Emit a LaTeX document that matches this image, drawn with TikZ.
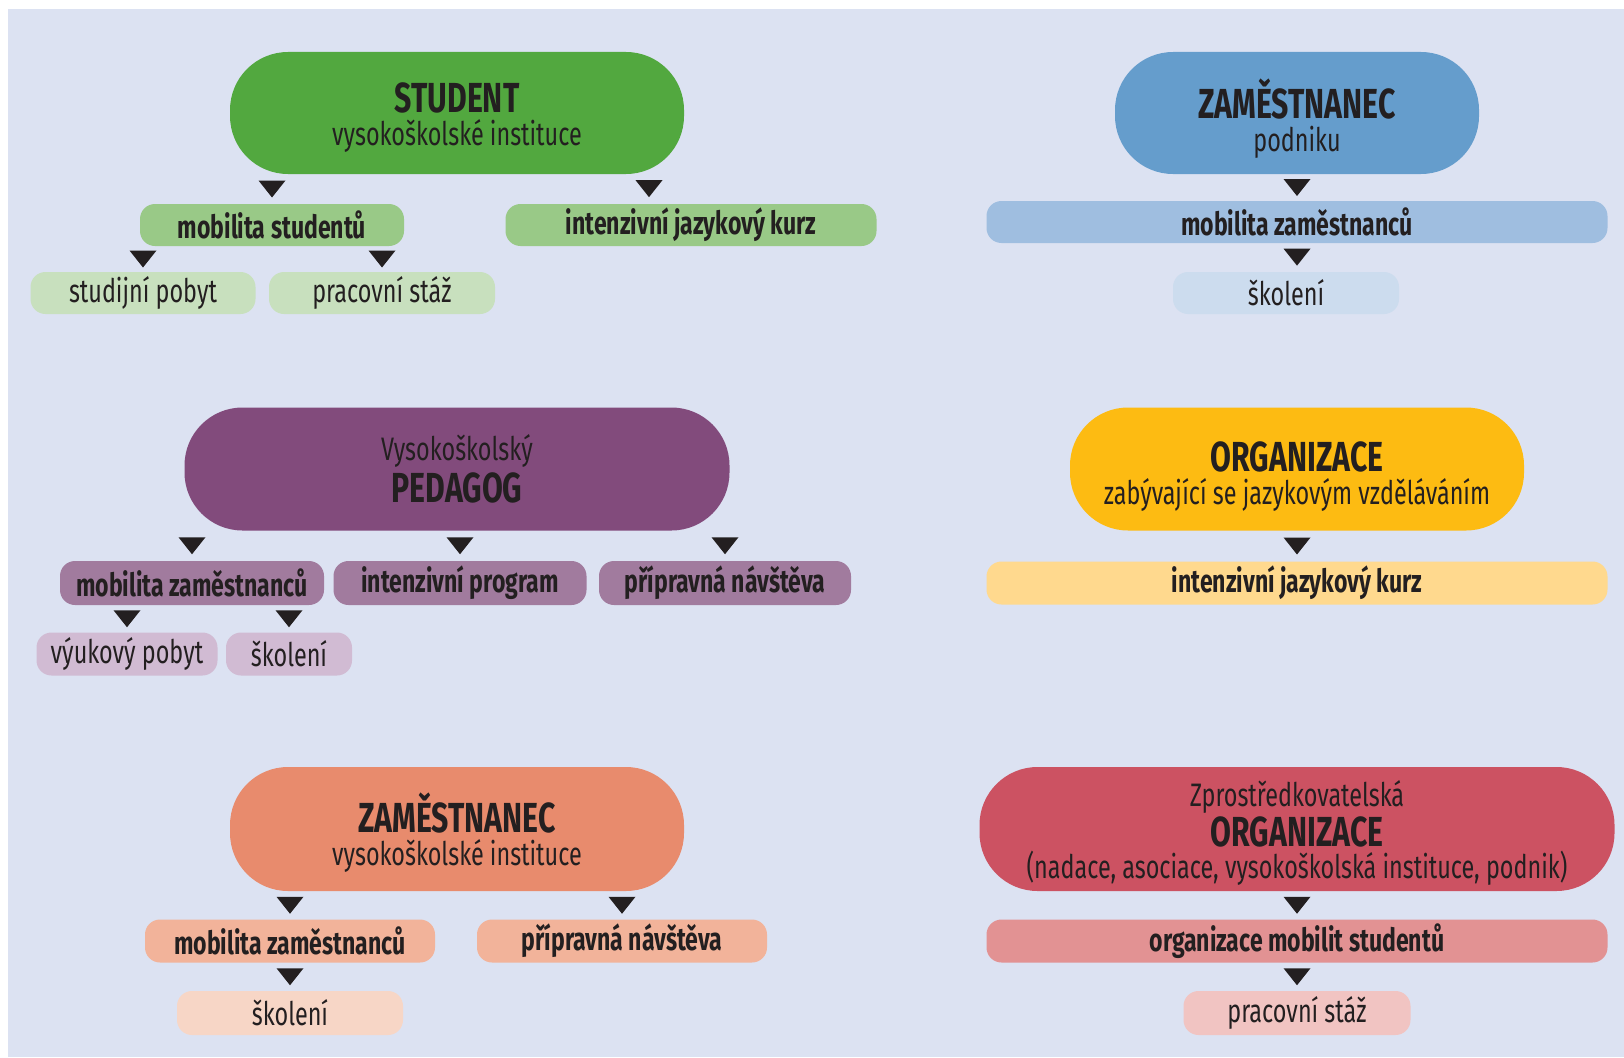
\documentclass[tikz,border=0pt]{standalone}
\usepackage{fontspec}
\setmainfont{Fira Sans}[FakeStretch=0.72]
\usetikzlibrary{calc}

\definecolor{paper}{RGB}{220,226,242}
\definecolor{ink}{RGB}{35,31,32}
\definecolor{grnA}{RGB}{82,168,63}
\definecolor{grnB}{RGB}{153,201,135}
\definecolor{grnC}{RGB}{200,224,190}
\definecolor{bluA}{RGB}{101,157,204}
\definecolor{bluB}{RGB}{159,190,224}
\definecolor{bluC}{RGB}{204,220,238}
\definecolor{purA}{RGB}{130,75,124}
\definecolor{purB}{RGB}{161,123,158}
\definecolor{purC}{RGB}{209,187,211}
\definecolor{yelA}{RGB}{253,187,18}
\definecolor{yelB}{RGB}{255,217,142}
\definecolor{orgA}{RGB}{232,139,109}
\definecolor{orgB}{RGB}{242,179,154}
\definecolor{orgC}{RGB}{247,214,198}
\definecolor{redA}{RGB}{204,82,98}
\definecolor{redB}{RGB}{226,146,147}
\definecolor{redC}{RGB}{241,196,194}

\newcommand\hd[2][0pt]{{\fontsize{42}{38}\selectfont\bfseries\rule{0pt}{#1}#2}}

\begin{document}
\begin{tikzpicture}[x=1pt, y=-1pt,
	head/.style = { rounded corners=58pt, minimum height=122pt, inner sep=0pt,
		align=center, text=ink, font=\fontsize{32.5}{33}\selectfont },
	tag/.style = { rounded corners=15pt, minimum height=42pt, inner sep=0pt,
		text=ink, font=\fontsize{32}{34}\selectfont\bfseries },
	leaf/.style = { rounded corners=15pt, minimum height=42pt, inner sep=0pt,
		text=ink, font=\fontsize{32.5}{34}\selectfont },
	drop/.style = { to path = { ($(\tikztostart.south -| \tikztotarget.north)!.5!(\tikztotarget.north)$)
		++(-13.5,-8.5) -- ++(27,0) -- ++(-13.5,17) -- cycle } }
	]
	\useasboundingbox (0,0) rectangle (1624,1057);
	\fill[paper] (8,9) rectangle (1624,1057);

	% student
	\node [head, fill=grnA, minimum width=454pt] (student) at (457,113)
		{ \hd[38pt]{STUDENT}\\ vysokoškolské instituce };
	\node [tag, fill=grnB, minimum width=264pt] (mobstud) at (272,225) { mobilita studentů };
	\node [tag, fill=grnB, minimum width=371pt] (kurzS) at (691,225) { intenzivní jazykový kurz };
	\node [inner sep=0pt] (kurzStop) at ([xshift=-42pt]kurzS.north) {};
	\node [leaf, fill=grnC, minimum width=225pt] (studpob) at (143,293) { studijní pobyt };
	\node [leaf, fill=grnC, minimum width=226pt] (stazS) at (382,293) { pracovní stáž };

	% zamestnanec podniku
	\node [head, fill=bluA, minimum width=364pt] (zampod) at (1297,113)
		{ \hd[50pt]{ZAMĚSTNANEC}\\ podniku };
	\node [tag, fill=bluB, minimum width=621pt] (mobzamP) at (1297,222) { mobilita zaměstnanců };
	\node [leaf, fill=bluC, minimum width=226pt] (skolP) at (1286,293) { školení };
	\node [inner sep=0pt] (skolPtop) at (mobzamP.south |- skolP.north) {};

	% pedagog
	\node [head, fill=purA, minimum width=545pt, minimum height=123pt] (pedagog) at (457,469)
		{ Vysokoškolský\\[4pt] \hd{PEDAGOG} };
	\node [tag, fill=purB, minimum width=264pt, minimum height=44pt] (mobzamV) at (192,583) { mobilita zaměstnanců };
	\node [tag, fill=purB, minimum width=253pt, minimum height=44pt] (intprog) at (460,583) { intenzivní program };
	\node [tag, fill=purB, minimum width=252pt, minimum height=44pt] (pripV) at (725,583) { přípravná návštěva };
	\node [leaf, fill=purC, minimum width=181pt, minimum height=43pt] (vyuk) at (127,654) { výukový pobyt };
	\node [leaf, fill=purC, minimum width=126pt, minimum height=43pt] (skolV) at (289,654) { školení };

	% organizace jazykova
	\node [head, fill=yelA, minimum width=454pt, minimum height=123pt] (orgjaz) at (1297,469)
		{ \hd[44pt]{ORGANIZACE}\\ zabývající se jazykovým vzděláváním };
	\node [tag, fill=yelB, minimum width=621pt, minimum height=43pt] (kurzO) at (1297,583) { intenzivní jazykový kurz };

	% zamestnanec vs
	\node [head, fill=orgA, minimum width=454pt, minimum height=124pt] (zamvs) at (457,829)
		{ \hd[46pt]{ZAMĚSTNANEC}\\ vysokoškolské instituce };
	\node [tag, fill=orgB, minimum width=290pt, minimum height=43pt] (mobzamZ) at (290,941) { mobilita zaměstnanců };
	\node [tag, fill=orgB, minimum width=290pt, minimum height=43pt] (pripZ) at (622,941) { přípravná návštěva };
	\node [leaf, fill=orgC, minimum width=226pt, minimum height=44pt] (skolZ) at (290,1013) { školení };

	% zprostredkovatelska organizace
	\node [head, fill=redA, minimum width=635pt, minimum height=124pt] (zprost) at (1297,829)
		{ \rule{0pt}{34pt}Zprostředkovatelská\\[3pt] \hd{ORGANIZACE}\\[-1pt] (nadace, asociace, vysokoškolská instituce, podnik) };
	\node [tag, fill=redB, minimum width=621pt, minimum height=43pt] (orgmob) at (1297,941) { organizace mobilit studentů };
	\node [leaf, fill=redC, minimum width=227pt, minimum height=44pt] (stazZ) at (1297,1013) { pracovní stáž };

	% arrows
	\fill[ink] (student) to[drop] (mobstud);
	\fill[ink] (student) to[drop] (kurzStop);
	\fill[ink] (mobstud) to[drop] (studpob);
	\fill[ink] (mobstud) to[drop] (stazS);
	\fill[ink] (zampod) to[drop] (mobzamP);
	\fill[ink] (mobzamP) to[drop] (skolPtop);
	\fill[ink] (pedagog) to[drop] (mobzamV);
	\fill[ink] (pedagog) to[drop] (intprog);
	\fill[ink] (pedagog) to[drop] (pripV);
	\fill[ink] (mobzamV) to[drop] (vyuk);
	\fill[ink] (mobzamV) to[drop] (skolV);
	\fill[ink] (orgjaz) to[drop] (kurzO);
	\fill[ink] (zamvs) to[drop] (mobzamZ);
	\fill[ink] (zamvs) to[drop] (pripZ);
	\fill[ink] (mobzamZ) to[drop] (skolZ);
	\fill[ink] (zprost) to[drop] (orgmob);
	\fill[ink] (orgmob) to[drop] (stazZ);
\end{tikzpicture}
\end{document}
